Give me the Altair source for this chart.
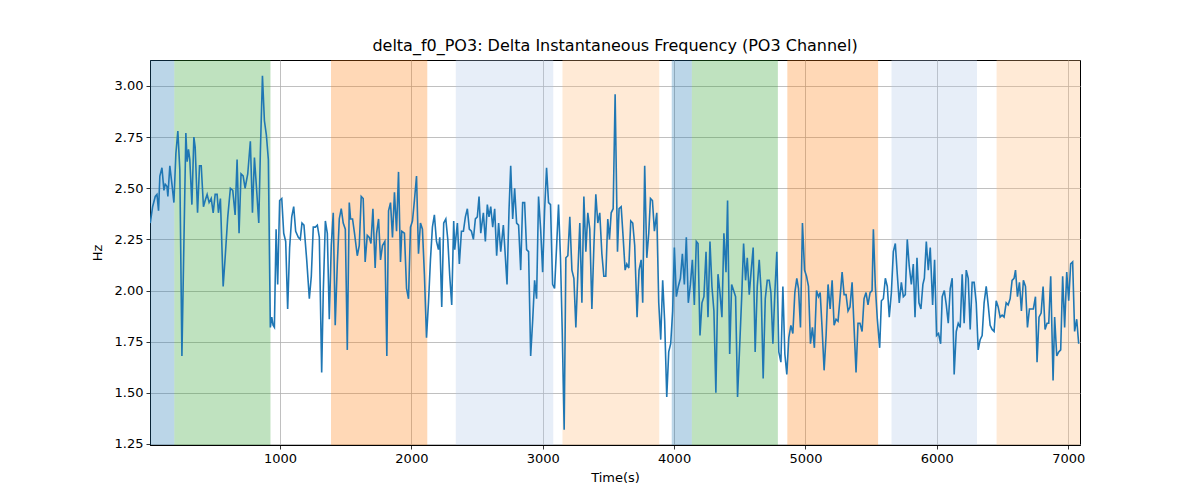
import altair as alt
import pandas as pd

# time axis (s) and delta frequency (Hz)
times = [12, 30, 50, 63, 75, 85, 101, 116, 126, 139, 146, 161, 177, 192, 207, 222, 237, 253, 268, 283,
         293, 303, 313, 329, 344, 354, 372, 387, 400, 417, 430, 445, 460, 476, 491, 506, 521, 531, 546, 567,
         582, 602, 622, 640, 658, 673, 688, 703, 719, 734, 754, 774, 790, 805, 820, 838, 850, 866, 881, 896,
         911, 926, 937, 947, 957, 970, 982, 997, 1013, 1028, 1043, 1058, 1073, 1089, 1104, 1119, 1139, 1154,
         1167, 1182, 1203, 1223, 1238, 1253, 1269, 1284, 1299, 1317, 1329, 1345, 1360, 1375, 1390, 1405, 1420,
         1436, 1451, 1466, 1481, 1497, 1512, 1527, 1537, 1552, 1567, 1588, 1603, 1618, 1633, 1648, 1664, 1679,
         1692, 1707, 1724, 1735, 1750, 1765, 1780, 1798, 1813, 1826, 1841, 1856, 1871, 1887, 1902, 1917, 1927,
         1947, 1963, 1978, 1993, 2008, 2023, 2039, 2054, 2069, 2084, 2099, 2115, 2130, 2145, 2160, 2175, 2191,
         2206, 2216, 2231, 2246, 2262, 2277, 2292, 2307, 2322,
         2330, 2350, 2365, 2381, 2396, 2411, 2426, 2441, 2457, 2472, 2487, 2502, 2515, 2528, 2548, 2563, 2578,
         2591, 2604, 2619, 2634, 2649, 2664, 2680, 2700, 2710, 2728, 2743, 2756, 2771, 2786, 2801, 2816, 2832,
         2847, 2862, 2877, 2892, 2908, 2923, 2938, 2953, 2968, 2984, 2999, 3014, 3029, 3044, 3059, 3075, 3090,
         3105, 3120, 3135, 3148, 3163, 3176, 3191, 3206, 3222, 3237, 3252, 3267, 3282, 3298, 3313, 3328, 3343,
         3358, 3374, 3389, 3404, 3419, 3434, 3450, 3465, 3480, 3495,
         3508, 3521, 3536, 3551, 3569, 3581, 3597, 3612, 3627, 3640, 3655, 3670, 3685, 3700, 3718, 3733, 3749,
         3761, 3776, 3792, 3807, 3820, 3835, 3850, 3868, 3883, 3898, 3913, 3928, 3944, 3959, 3974, 3989, 4002,
         4017, 4032, 4048, 4063, 4078, 4093, 4108, 4124, 4139, 4154, 4169, 4182, 4197, 4212, 4227, 4243, 4258,
         4273, 4288, 4303, 4318, 4334, 4349, 4364, 4379, 4395, 4407, 4423, 4438, 4453, 4468, 4483, 4498, 4514,
         4529, 4544, 4557, 4572, 4587, 4602, 4617, 4633, 4648, 4663, 4678, 4694, 4709, 4724,
         4737, 4752, 4767, 4782, 4797, 4813, 4828, 4843, 4858, 4873, 4889, 4904, 4919, 4934, 4947, 4962, 4977,
         4993, 5008, 5023, 5038, 5053, 5068, 5084, 5099, 5112, 5127, 5142, 5157, 5172, 5188, 5203, 5218, 5233,
         5248, 5264, 5279, 5294, 5309, 5324, 5339, 5355, 5370, 5385, 5400, 5415, 5431, 5446, 5461, 5476, 5492,
         5507, 5517, 5532, 5547, 5565, 5578, 5593, 5608, 5623, 5638, 5654, 5669, 5684, 5699, 5714, 5730, 5745,
         5760, 5775, 5790, 5806, 5821, 5834, 5849, 5864, 5879, 5894,
         5905, 5920, 5935, 5950, 5968, 5983, 5998, 6013, 6029, 6041, 6057, 6072, 6087, 6102, 6117, 6132, 6148,
         6163, 6178, 6193, 6208, 6224, 6239, 6254, 6269, 6284, 6300, 6315, 6330, 6345, 6360, 6376, 6391, 6406,
         6421, 6436, 6452, 6467, 6482, 6497, 6512, 6528, 6543, 6558, 6573, 6588, 6599, 6614, 6629, 6644, 6659,
         6675, 6690, 6705, 6720, 6735, 6751, 6763, 6778, 6794, 6809, 6824, 6839, 6852, 6867, 6885, 6897, 6913,
         6928, 6943, 6958, 6973, 6989, 7004, 7019, 7034, 7049, 7065, 7080]

hz = [2.33, 2.41, 2.46, 2.47, 2.39, 2.56, 2.60, 2.49, 2.52, 2.51, 2.46, 2.61, 2.52, 2.43, 2.67, 2.78, 2.59, 1.68, 2.23, 2.77,
      2.63, 2.69, 2.64, 2.42, 2.75, 2.70, 2.38, 2.61, 2.61, 2.41, 2.44, 2.47, 2.43, 2.45, 2.38, 2.47, 2.47, 2.38, 2.45, 2.02,
      2.16, 2.36, 2.50, 2.49, 2.37, 2.64, 2.28, 2.57, 2.56, 2.50, 2.57, 2.73, 2.38, 2.65, 2.51, 2.33, 2.67, 3.05, 2.83, 2.76,
      2.64, 1.82, 1.87, 1.83, 1.82, 2.30, 2.03, 2.44, 2.45, 2.28, 2.24, 1.91, 2.21, 2.36, 2.41, 2.29, 2.26, 2.25,
      2.33, 2.32, 2.15, 1.96, 2.07, 2.31, 2.31, 2.32, 2.26, 1.60, 1.99, 2.34, 2.28, 1.86, 2.22, 2.38, 1.83,
      2.13, 2.35, 2.40, 2.33, 2.30, 1.71, 2.43, 2.35, 2.35, 2.28, 2.17, 2.22, 2.46, 2.45, 2.14, 2.27, 2.26,
      2.23, 2.40, 2.11, 2.28, 2.35, 2.15, 2.22, 2.24, 1.68, 2.39, 2.43, 2.26, 2.48, 2.29, 2.58, 2.14, 2.29,
      2.28, 2.01, 1.96, 2.31, 2.34, 2.44, 2.56, 2.18, 2.33, 2.30, 2.08, 1.77, 1.94, 2.15, 2.31, 2.37, 2.24,
      2.20, 2.26, 1.92, 2.33, 2.35, 2.25, 2.07, 1.93, 2.34,
      2.20, 2.33, 2.13, 2.29, 2.29, 2.36, 2.40, 2.30, 2.29, 2.25, 2.35, 2.36, 2.46, 2.28, 2.38, 2.24, 2.42,
      2.36, 2.41, 2.31, 2.40, 2.17, 2.33, 2.19, 2.32, 2.22, 2.03, 2.39, 2.61, 2.35, 2.50, 2.33, 2.32, 2.10,
      2.43, 2.43, 2.20, 2.19, 1.68, 1.85, 2.05, 1.96, 2.46, 2.30, 2.09, 2.39, 2.60, 2.43, 2.42, 2.03, 2.01,
      2.21, 2.42, 2.16, 1.81, 1.32, 2.16, 2.17, 2.36, 2.10, 2.06, 1.82, 2.08, 2.33, 1.94, 2.46, 2.19, 2.38,
      2.30, 1.91, 2.21, 2.47, 2.33, 2.38, 2.18, 2.07, 2.07, 2.35,
      2.25, 2.38, 2.40, 2.96, 2.19, 2.40, 2.41, 2.26, 2.10, 2.13, 2.11, 2.34, 2.33, 2.22, 1.87, 2.10, 2.15,
      1.94, 2.61, 2.16, 2.28, 2.45, 2.44, 2.29, 2.38, 1.94, 1.76, 2.05, 1.85, 1.48, 1.70, 1.74, 1.90, 2.21,
      1.97, 2.02, 2.06, 2.18, 2.03, 2.26, 1.94, 2.03, 2.15, 1.93, 2.24, 2.23, 1.78, 1.94, 1.97, 2.19, 1.87,
      2.24, 2.02, 1.90, 1.50, 2.08, 1.99, 1.87, 2.28, 2.09, 2.44, 1.69, 2.03, 2.00, 1.97, 1.48, 1.71, 1.96,
      2.23, 2.05, 2.16, 1.98, 2.10, 2.21, 1.70, 2.02, 2.15, 1.99, 1.57, 1.96, 2.05, 2.05,
      1.99, 1.74, 1.99, 2.19, 1.70, 1.65, 2.02, 1.69, 1.59, 1.77, 1.83, 1.79, 1.99, 2.06, 2.01, 1.82, 2.33,
      2.10, 2.07, 2.02, 1.74, 1.82, 1.72, 2.00, 1.97, 1.99, 1.81, 1.61, 1.78, 2.03, 1.91, 2.05, 1.83, 1.86,
      1.85, 1.97, 2.09, 1.98, 1.98, 1.90, 1.92, 2.04, 1.82, 1.60, 1.84, 1.84, 1.80, 1.96, 1.99, 1.93, 1.99,
      2.00, 2.30, 2.02, 1.86, 1.72, 1.95, 1.96, 2.06, 2.02, 1.87, 1.99, 2.19, 2.23, 2.08, 1.94, 2.04, 1.97,
      1.98, 2.25, 2.12, 2.03, 2.13, 1.87, 2.16, 1.94, 1.91, 2.03,
      2.06, 2.24, 2.10, 2.21, 1.93, 2.15, 1.78, 1.79, 1.74, 1.97, 2.00, 1.93, 1.84, 2.01, 2.06, 1.59, 1.80,
      1.84, 1.82, 2.08, 1.84, 2.10, 2.06, 1.81, 2.04, 2.04, 1.94, 1.71, 1.76, 1.78, 1.94, 2.02, 1.93, 1.83,
      1.81, 1.80, 1.95, 1.92, 1.87, 1.88, 1.87, 1.94, 1.93, 1.96, 2.05, 2.06, 2.10, 1.97, 2.04, 1.90, 2.05,
      2.02, 1.82, 1.91, 1.91, 1.91, 1.97, 1.65, 1.87, 1.89, 2.02, 1.81, 1.84, 1.84, 2.07, 1.56, 1.87, 1.68,
      1.70, 1.71, 2.07, 1.82, 2.09, 1.95, 2.13, 2.14, 1.80, 1.86, 1.74]

# shaded segments
span_start = [10, 195, 1388, 2338, 3150, 3982, 4135, 4862, 5655, 6455]
span_end = [195, 927, 2121, 3080, 3887, 4135, 4790, 5553, 6306, 7090]
span_color = ['#1f77b4', '#2ca02c', '#ff7f0e', '#aec7e8', '#ffbb78',
              '#1f77b4', '#2ca02c', '#ff7f0e', '#aec7e8', '#ffbb78']

line_df = pd.DataFrame({'t': times, 'hz': hz})
span_df = pd.DataFrame({'start': span_start, 'end': span_end, 'color': span_color})

x_scale = alt.Scale(domain=[10, 7090], nice=False, zero=False)
y_scale = alt.Scale(domain=[1.245, 3.127], nice=False, zero=False)

spans = alt.Chart(span_df).mark_rect(opacity=0.3).encode(
    x=alt.X('start:Q', scale=x_scale),
    x2='end:Q',
    y=alt.value(0),
    y2=alt.value(385),
    color=alt.Color('color:N', scale=None)
)

line = alt.Chart(line_df).mark_line(color='#1f77b4', strokeWidth=1.6, clip=True).encode(
    x=alt.X('t:Q', scale=x_scale,
            axis=alt.Axis(title='Time(s)', values=[1000, 2000, 3000, 4000, 5000, 6000, 7000],
                          format='d', titlePadding=6)),
    y=alt.Y('hz:Q', scale=y_scale,
            axis=alt.Axis(title='Hz', values=[1.25, 1.5, 1.75, 2.0, 2.25, 2.5, 2.75, 3.0],
                          format='.2f', titlePadding=10))
)

chart = (spans + line).properties(
    width=930, height=385,
    autosize=alt.AutoSizeParams(type='none'),
    padding={'left': 142, 'top': 52, 'right': 100, 'bottom': 47},
    title=alt.TitleParams('delta_f0_PO3: Delta Instantaneous Frequency (PO3 Channel)',
                          fontSize=16, fontWeight='normal', font='DejaVu Sans',
                          color='black', offset=6)
).configure_view(
    stroke='black', strokeWidth=1
).configure_axis(
    grid=True, gridColor='#b0b0b0', gridWidth=0.8,
    domainColor='black', domainWidth=1,
    tickColor='black', tickSize=4, tickWidth=0.8,
    labelFont='DejaVu Sans', labelFontSize=13, labelColor='black', labelPadding=3,
    titleFont='DejaVu Sans', titleFontSize=13, titleFontWeight='normal', titleColor='black'
)

chart.save('out.html', embed_options={'renderer': 'svg', 'actions': False})
